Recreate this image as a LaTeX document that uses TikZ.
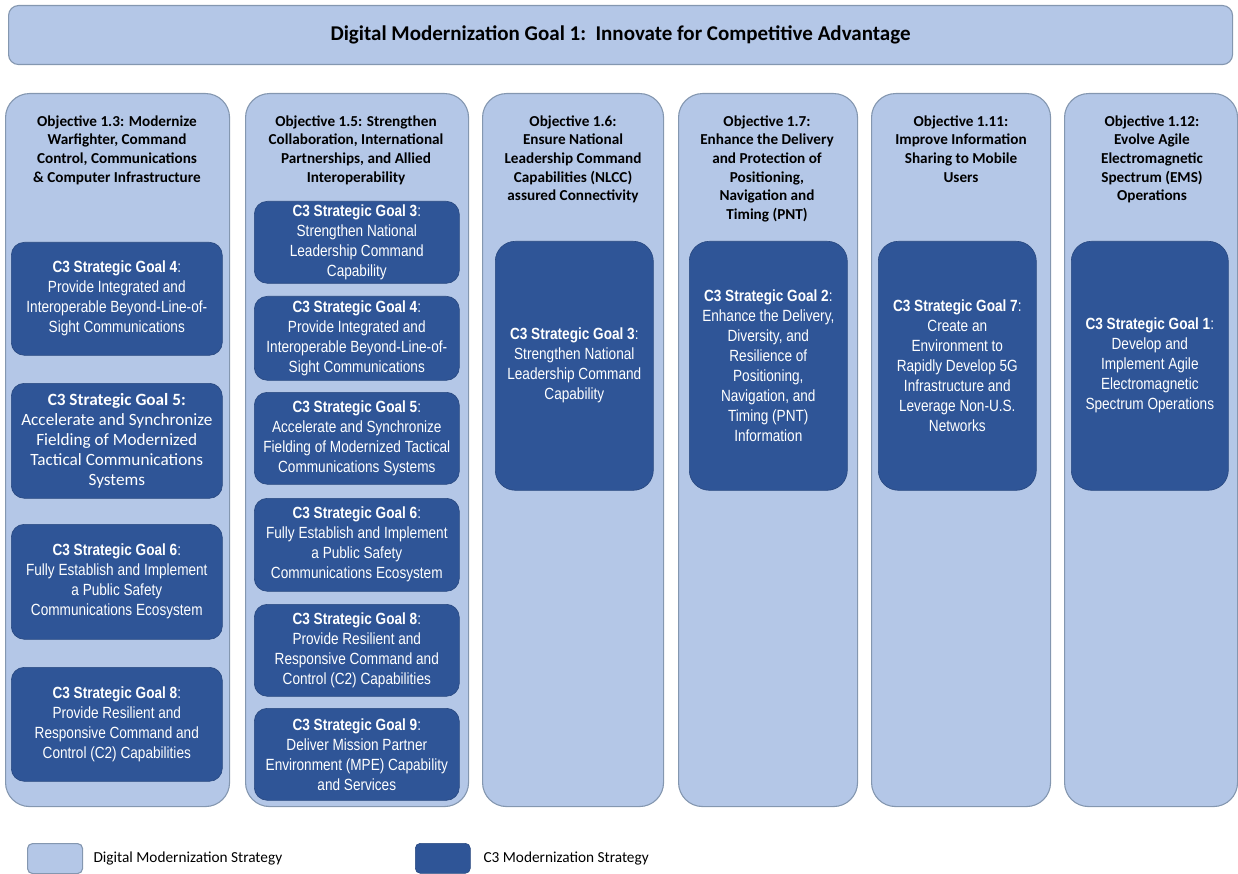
\documentclass[tikz,border=0pt]{standalone}
\usepackage{fontspec}
\setmainfont{Carlito}
\newfontfamily\narrowfont[FakeStretch=0.84]{Liberation Sans}
\definecolor{dmlight}{HTML}{B4C7E7}
\definecolor{dmedge}{HTML}{8497B0}
\definecolor{cdark}{HTML}{2F5597}

\begin{document}
\begin{tikzpicture}[x=1pt,y=-1pt,
  dmbox/.style={draw=dmedge, fill=dmlight, line width=1.1pt, rounded corners=24pt, anchor=north west, inner sep=0pt},
  c3box/.style={draw=cdark!85!black, fill=cdark, line width=0.6pt, rounded corners=13pt, anchor=north west, inner sep=0pt,
    text=white, align=center, font=\narrowfont\fontsize{16.2}{20}\selectfont},
  objtext/.style={anchor=north, align=center, font=\bfseries\fontsize{15.2}{18.6}\selectfont}]
\useasboundingbox (0,0) rectangle (1238,874);

% Goal banner
\node[dmbox, rounded corners=10pt, minimum width=1224pt, minimum height=59pt,
  font=\bfseries\fontsize{21}{24}\selectfont] (title) at (8,5)
  {Digital Modernization Goal 1:\ \ Innovate for Competitive Advantage};

% Objective columns
\node[dmbox, minimum width=224pt, minimum height=713pt] (col13) at (5,93) {};
\node[dmbox, minimum width=223pt, minimum height=713pt] (col15) at (245,93) {};
\node[dmbox, minimum width=181pt, minimum height=713pt] (col16) at (482,93) {};
\node[dmbox, minimum width=179pt, minimum height=713pt] (col17) at (678,93) {};
\node[dmbox, minimum width=179pt, minimum height=713pt] (col111) at (871,93) {};
\node[dmbox, minimum width=173pt, minimum height=713pt] (col112) at (1064,93) {};

\node[objtext] (obj13) at (117,112) {Objective 1.3: Modernize\\Warfighter, Command\\Control, Communications\\\& Computer Infrastructure};
\node[objtext] (obj15) at (356,112) {Objective 1.5: Strengthen\\Collaboration, International\\Partnerships, and Allied\\Interoperability};
\node[objtext] (obj16) at (573,112) {Objective 1.6:\\Ensure National\\Leadership Command\\Capabilities (NLCC)\\assured Connectivity};
\node[objtext] (obj17) at (767,112) {Objective 1.7:\\Enhance the Delivery\\and Protection of\\Positioning,\\Navigation and\\Timing (PNT)};
\node[objtext] (obj111) at (961,112) {Objective 1.11:\\Improve Information\\Sharing to Mobile\\Users};
\node[objtext] (obj112) at (1152,112) {Objective 1.12:\\Evolve Agile\\Electromagnetic\\Spectrum (EMS)\\Operations};

% C3 goals under objective 1.3
\node[c3box, minimum width=211pt, minimum height=113pt] (g13a) at (11,242)
  {\textbf{C3 Strategic Goal 4}:\\Provide Integrated and\\Interoperable Beyond-Line-of-\\Sight Communications};
\node[c3box, minimum width=211pt, minimum height=115pt, font=\fontsize{17.2}{20}\selectfont] (g13b) at (11,383)
  {\textbf{C3 Strategic Goal 5:}\\Accelerate and Synchronize\\Fielding of Modernized\\Tactical Communications\\Systems};
\node[c3box, minimum width=211pt, minimum height=115pt] (g13c) at (11,524)
  {\textbf{C3 Strategic Goal 6}:\\Fully Establish and Implement\\a Public Safety\\Communications Ecosystem};
\node[c3box, minimum width=211pt, minimum height=114pt] (g13d) at (11,667)
  {\textbf{C3 Strategic Goal 8}:\\Provide Resilient and\\Responsive Command and\\Control (C2) Capabilities};

% C3 goals under objective 1.5
\node[c3box, minimum width=205pt, minimum height=82pt] (g15a) at (254,201)
  {\textbf{C3 Strategic Goal 3}:\\Strengthen National\\Leadership Command\\Capability};
\node[c3box, minimum width=205pt, minimum height=84pt] (g15b) at (254,296)
  {\textbf{C3 Strategic Goal 4}:\\Provide Integrated and\\Interoperable Beyond-Line-of-\\Sight Communications};
\node[c3box, minimum width=205pt, minimum height=92pt] (g15c) at (254,392)
  {\textbf{C3 Strategic Goal 5}:\\Accelerate and Synchronize\\Fielding of Modernized Tactical\\Communications Systems};
\node[c3box, minimum width=205pt, minimum height=93pt] (g15d) at (254,498)
  {\textbf{C3 Strategic Goal 6}:\\Fully Establish and Implement\\a Public Safety\\Communications Ecosystem};
\node[c3box, minimum width=205pt, minimum height=92pt] (g15e) at (254,604)
  {\textbf{C3 Strategic Goal 8}:\\Provide Resilient and\\Responsive Command and\\Control (C2) Capabilities};
\node[c3box, minimum width=205pt, minimum height=92pt] (g15f) at (254,708)
  {\textbf{C3 Strategic Goal 9}:\\Deliver Mission Partner\\Environment (MPE) Capability\\and Services};

% single C3 goals
\node[c3box, rounded corners=20pt, minimum width=158pt, minimum height=249pt] (g16) at (495,241)
  {\textbf{C3 Strategic Goal 3}:\\Strengthen National\\Leadership Command\\Capability};
\node[c3box, rounded corners=20pt, minimum width=158pt, minimum height=249pt] (g17) at (689,241)
  {\textbf{C3 Strategic Goal 2}:\\Enhance the Delivery,\\Diversity, and\\Resilience of\\Positioning,\\Navigation, and\\Timing (PNT)\\Information};
\node[c3box, rounded corners=20pt, minimum width=158pt, minimum height=249pt] (g111) at (878,241)
  {\textbf{C3 Strategic Goal 7}:\\Create an\\Environment to\\Rapidly Develop 5G\\Infrastructure and\\Leverage Non-U.S.\\Networks};
\node[c3box, rounded corners=20pt, minimum width=157pt, minimum height=249pt] (g112) at (1071,241)
  {\textbf{C3 Strategic Goal 1}:\\Develop and\\Implement Agile\\Electromagnetic\\Spectrum Operations};

% Legend
\node[dmbox, rounded corners=5pt, minimum width=55pt, minimum height=30pt] (keydm) at (27,843) {};
\node[anchor=west, font=\fontsize{15.3}{17}\selectfont] (keydmt) at (90,858) {Digital Modernization Strategy};
\node[c3box, rounded corners=5pt, minimum width=55pt, minimum height=30pt] (keyc3) at (415,843) {};
\node[anchor=west, font=\fontsize{15.3}{17}\selectfont] (keyc3t) at (480,858) {C3 Modernization Strategy};
\end{tikzpicture}
\end{document}
